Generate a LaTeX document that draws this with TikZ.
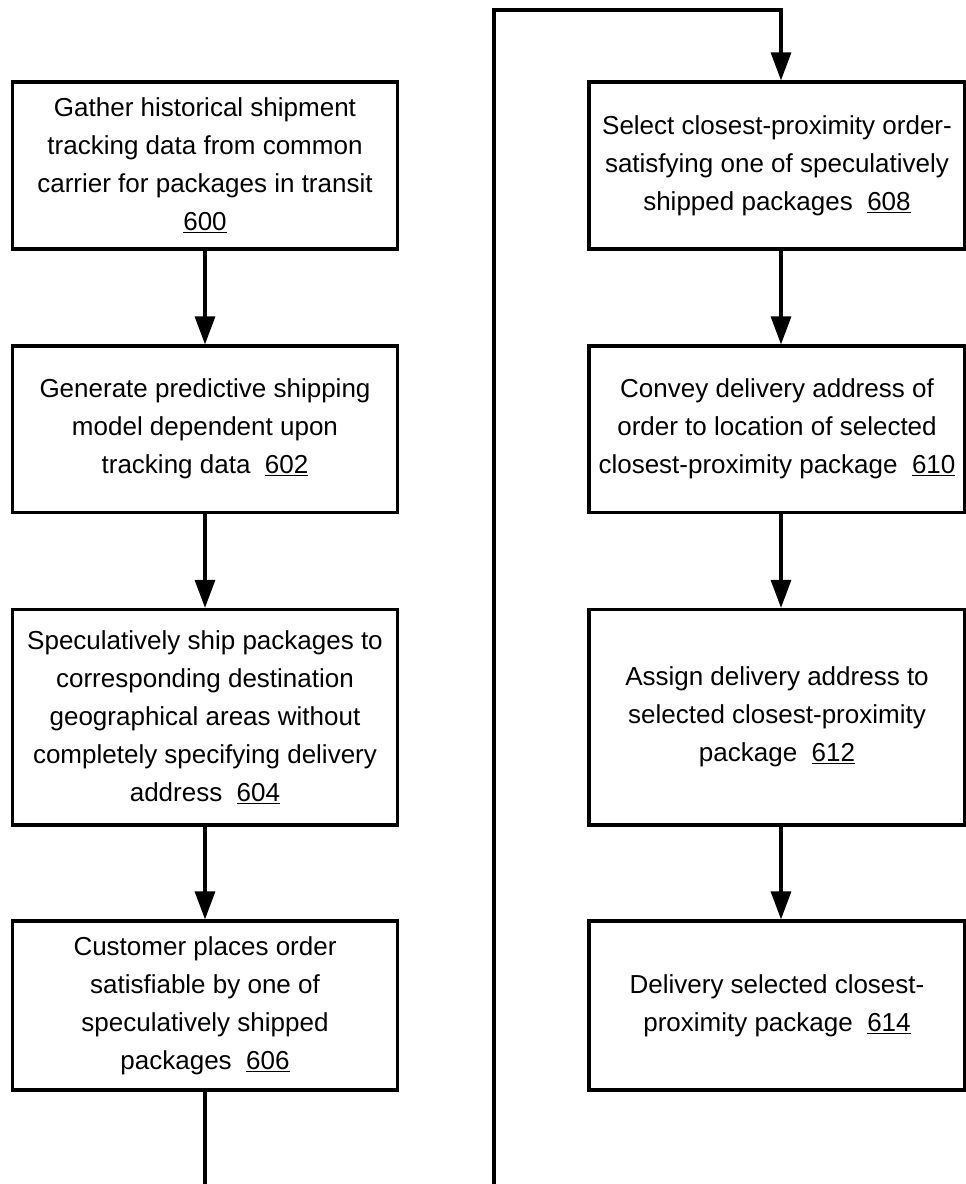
\documentclass[tikz,border=0pt]{standalone}
\usepackage{fontspec}
\setmainfont{Liberation Sans}
\usetikzlibrary{arrows.meta}
\tikzset{
  box/.style={draw, line width=3.2pt, rectangle, align=center, inner sep=0pt,
    font=\fontsize{26}{38}\selectfont},
  lbox/.style={box, minimum width=385.5pt},
  rbox/.style={box, minimum width=376pt},
  arr/.style={line width=3.2pt, -{Triangle[length=28pt,width=20pt]}},
  link/.style={line width=3.2pt},
}
\newcommand{\num}[1]{\underline{#1}}
\begin{document}
\begin{tikzpicture}[x=1pt,y=-1pt]
\useasboundingbox (0,0) rectangle (966,1184);
\node[lbox, minimum height=167pt] (n600) at (205,165.5)
  {Gather historical shipment\\tracking data from common\\carrier for packages in transit\\\num{600}};
\node[lbox, minimum height=166.5pt] (n602) at (205,429.25)
  {Generate predictive shipping\\model dependent upon\\tracking data\ \ \num{602}};
\node[lbox, minimum height=215.5pt] (n604) at (205,717.25)
  {Speculatively ship packages to\\corresponding destination\\geographical areas without\\completely specifying delivery\\address\ \ \num{604}};
\node[lbox, minimum height=169pt] (n606) at (205,1005.5)
  {Customer places order\\satisfiable by one of\\speculatively shipped\\packages\ \ \num{606}};
\node[rbox, minimum height=167pt] (n608) at (777,165.5)
  {Select closest-proximity order-\\satisfying one of speculatively\\shipped packages\ \ \num{608}};
\node[rbox, minimum height=166.5pt] (n610) at (777,429.25)
  {Convey delivery address of\\order to location of selected\\closest-proximity package\ \ \num{610}};
\node[rbox, minimum height=215.5pt] (n612) at (777,717.25)
  {Assign delivery address to\\selected closest-proximity\\package\ \ \num{612}};
\node[rbox, minimum height=169pt] (n614) at (777,1005.5)
  {Delivery selected closest-\\proximity package\ \ \num{614}};
\coordinate (rc) at (781,0);
\coordinate (lb) at (494,1185.5);
\coordinate (tr) at (781,10);
\draw[arr] (n600) -- (n602);
\draw[arr] (n602) -- (n604);
\draw[arr] (n604) -- (n606);
\draw[arr] (n608.south -| rc) -- (n610.north -| rc);
\draw[arr] (n610.south -| rc) -- (n612.north -| rc);
\draw[arr] (n612.south -| rc) -- (n614.north -| rc);
\draw[arr] (n606.south) |- (lb) |- (tr) -- (n608.north -| rc);
\end{tikzpicture}
\end{document}
